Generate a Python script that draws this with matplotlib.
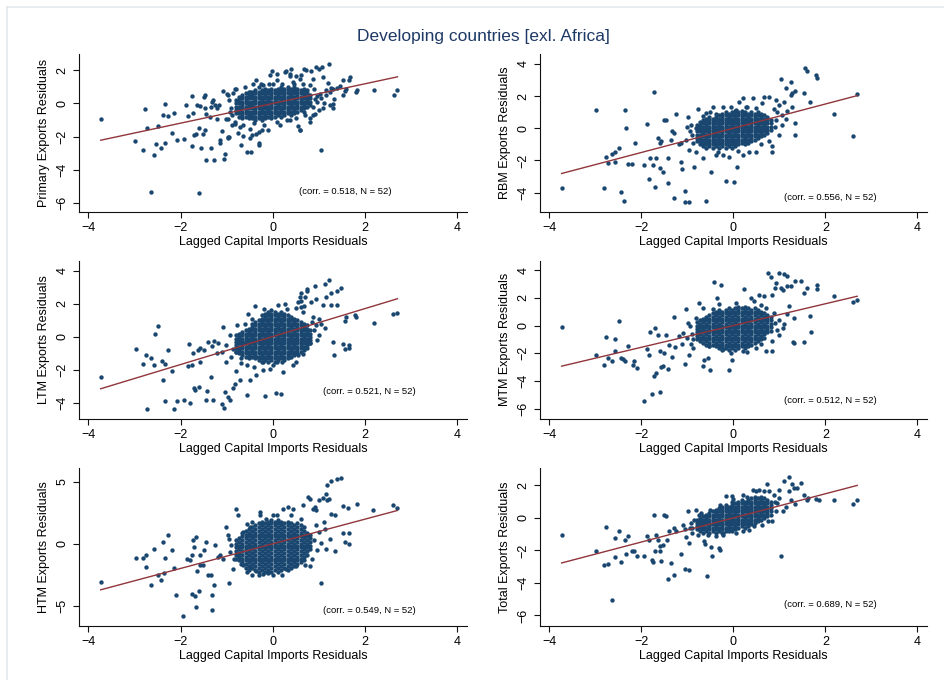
import matplotlib.pyplot as plt
from matplotlib.lines import Line2D

plt.rcParams['font.family'] = ['Liberation Sans', 'DejaVu Sans']

navy = '#1a476f'
maroon = '#90353b'

title = 'Developing countries [exl. Africa]'
x_label = 'Lagged Capital Imports Residuals'
y_labels = ['Primary Exports Residuals', 'RBM Exports Residuals',
            'LTM Exports Residuals', 'MTM Exports Residuals',
            'HTM Exports Residuals', 'Total Exports Residuals']
corr_vals = [0.518, 0.556, 0.521, 0.512, 0.549, 0.689]
n_obs = 52
fit_slope = [0.594, 0.753, 0.849, 0.787, 0.998, 0.743]
fit_const = [0.0, 0.0, 0.02, 0.0, 0.0, 0.0]
y_ticks = [[-6, -4, -2, 0, 2], [-4, -2, 0, 2, 4], [-4, -2, 0, 2, 4],
           [-6, -4, -2, 0, 2, 4], [-5, 0, 5], [-6, -4, -2, 0, 2]]
x_ticks = [-4, -2, 0, 2, 4]

# x positions of the dense cloud around the origin (same for every panel)
core_cols = [-0.80, -0.73, -0.66, -0.59, -0.52, -0.45, -0.38, -0.31, -0.24, -0.17, -0.10, -0.03,
             0.04, 0.11, 0.18, 0.25, 0.32, 0.39, 0.46, 0.53, 0.60, 0.67, 0.74, 0.81]

primary_core = [
    [-0.6, -0.4, -0.2, 0.0, 0.2],
    [-0.8, -0.6, -0.4, -0.2, 0.0, 0.2, 0.4],
    [-0.9, -0.7, -0.5, -0.3, -0.1, 0.1, 0.3, 0.5],
    [-0.8, -0.6, -0.4, -0.2, 0.0, 0.2, 0.4, 0.6],
    [-0.9, -0.7, -0.5, -0.3, -0.1, 0.1, 0.3, 0.5, 0.7],
    [-0.9, -0.7, -0.5, -0.3, -0.1, 0.1, 0.3, 0.5, 0.7],
    [-1.0, -0.8, -0.6, -0.4, -0.2, 0.0, 0.2, 0.4, 0.6, 0.8],
    [-0.9, -0.7, -0.5, -0.3, -0.1, 0.1, 0.3, 0.5, 0.7],
    [-1.0, -0.8, -0.6, -0.4, -0.2, 0.0, 0.2, 0.4, 0.6, 0.8],
    [-0.9, -0.7, -0.5, -0.3, -0.1, 0.1, 0.3, 0.5, 0.7, 0.9],
    [-0.8, -0.6, -0.4, -0.2, 0.0, 0.2, 0.4, 0.6, 0.8],
    [-0.9, -0.7, -0.5, -0.3, -0.1, 0.1, 0.3, 0.5, 0.7, 0.9],
    [-0.8, -0.6, -0.4, -0.2, 0.0, 0.2, 0.4, 0.6, 0.8],
    [-0.7, -0.5, -0.3, -0.1, 0.1, 0.3, 0.5, 0.7, 0.9],
    [-0.8, -0.6, -0.4, -0.2, 0.0, 0.2, 0.4, 0.6, 0.8, 1.0],
    [-0.7, -0.5, -0.3, -0.1, 0.1, 0.3, 0.5, 0.7, 0.9],
    [-0.6, -0.4, -0.2, 0.0, 0.2, 0.4, 0.6, 0.8, 1.0],
    [-0.7, -0.5, -0.3, -0.1, 0.1, 0.3, 0.5, 0.7, 0.9],
    [-0.6, -0.4, -0.2, 0.0, 0.2, 0.4, 0.6, 0.8, 1.0],
    [-0.5, -0.3, -0.1, 0.1, 0.3, 0.5, 0.7, 0.9],
    [-0.4, -0.2, 0.0, 0.2, 0.4, 0.6, 0.8],
    [-0.5, -0.3, -0.1, 0.1, 0.3, 0.5, 0.7, 0.9],
    [-0.2, 0.0, 0.2, 0.4, 0.6, 0.8],
    [-0.1, 0.1, 0.3, 0.5],
]
primary_pts = [
    (-3.73, -0.91), (-2.76, -0.35), (-2.72, -1.45), (-2.98, -2.28), (-2.82, -2.78), (-2.57, -3.08),
    (-2.54, -2.46), (-2.48, -1.37), (-2.34, -0.05), (-2.38, -0.67), (-2.28, -0.75), (-2.43, -2.68),
    (-2.34, -2.36), (-2.18, -1.78), (-2.14, -0.55), (-2.08, -2.18), (-1.93, -2.12), (-1.89, -0.11),
    (-1.83, -0.77), (-1.76, 0.45), (-1.75, -2.56), (-1.73, -0.57), (-1.70, -1.92), (-1.67, -1.86),
    (-1.64, -0.11), (-1.60, -1.45), (-1.59, -5.39), (-1.57, -0.15), (-1.55, -2.68), (-1.51, -1.84),
    (-1.50, 0.41), (-1.46, -0.27), (-1.44, -3.42), (-1.36, -0.81), (-1.33, -2.68), (-1.32, 0.09),
    (-1.28, -3.38), (-1.26, -0.11), (-1.22, -0.27), (-1.22, -0.91), (-1.17, -0.11), (-1.15, -2.36),
    (-1.11, -1.67), (-1.08, 0.74), (-1.05, -3.36), (-1.04, -3.02), (-1.01, -0.91), (-0.97, -2.06),
    (-0.95, -2.02), (-2.63, -5.33), (-0.97, 0.53), (-0.92, -0.51), (-0.88, -1.31), (-0.83, -1.11),
    (-0.79, 0.90), (-0.75, -1.76), (-0.68, -2.52), (-0.65, -1.31), (-0.57, -2.92), (-0.48, -2.92),
    (-0.46, -1.92), (-0.36, -1.82), (-0.30, -2.52), (-0.23, -1.61), (-0.10, -1.61), (1.04, -2.78),
    (0.81, -0.87), (0.88, -0.67), (0.58, -1.57), (0.55, -1.37), (1.09, -0.25), (1.52, 1.40),
    (1.66, 1.40), (1.68, 1.60), (1.52, 0.53), (1.56, 0.74), (1.82, 0.80), (2.19, 0.80),
    (2.62, 0.53), (2.70, 0.80), (1.39, 0.94), (1.27, 0.94), (1.20, 1.26), (1.22, 2.40),
    (0.94, 2.20), (0.99, 2.06), (1.07, 2.20), (0.68, 2.06), (0.71, 2.00), (0.40, 2.10),
    (0.37, 1.80), (0.29, 1.94), (0.26, 1.90), (0.08, 1.80), (0.09, 1.40), (-0.01, 1.94),
    (-0.07, 1.70), (-0.36, 1.40), (-0.43, 1.20), (0.83, 1.94), (0.87, 1.50), (1.09, 1.60),
    (0.62, 1.70), (0.51, 1.66), (1.32, 0.29), (1.30, -0.25), (1.31, -0.01), (1.23, -0.07),
    (1.23, 0.69), (0.91, -0.61), (-0.21, 1.10), (-0.26, 1.16), (-0.08, 1.20), (-0.50, 0.69),
    (-0.83, 0.89), (-0.86, 0.60), (-1.00, 0.59), (-1.29, 0.23), (-1.47, 0.53), (-1.33, -0.21),
    (-1.44, -0.61), (-0.98, -0.91), (-0.83, -1.21), (-0.72, -1.41), (-0.50, -1.51), (-0.29, -1.71),
    (0.15, -1.31), (0.37, -1.01), (0.58, -1.61), (0.80, -1.11), (0.87, -0.21), (0.91, 0.29),
    (1.02, 0.59), (1.16, 0.79), (1.31, 0.89), (1.45, 1.03), (1.59, 0.89), (1.81, 0.69),
    (0.58, 1.50), (0.44, 1.30), (0.37, 1.64), (-0.50, -2.11), (-0.65, -1.97), (-0.29, -2.41),
    (-1.15, -2.21), (-0.98, -2.01), (-1.47, -1.61), (0.95, 0.10), (1.00, -0.40), (0.95, 0.45),
    (-0.90, -0.30), (-0.95, 0.20), (-0.88, -0.70), (-0.40, -1.20), (-0.20, -1.30), (0.10, -1.10),
    (0.30, -1.00), (0.50, -0.90), (0.70, -0.70), (-0.60, 1.00), (-0.30, 1.00), (0.00, 1.15),
    (0.20, 1.20), (0.45, 1.15), (0.65, 1.20), (0.80, 1.10), (0.90, 0.90), (1.05, 0.30),
    (1.15, 0.50), (1.10, 0.05),
]

rbm_core = [
    [-0.8, -0.6, -0.4, -0.2, 0.0, 0.2],
    [-1.0, -0.8, -0.6, -0.4, -0.2, 0.0, 0.2, 0.4],
    [-1.1, -0.9, -0.7, -0.5, -0.3, -0.1, 0.1, 0.3, 0.5],
    [-1.0, -0.8, -0.6, -0.4, -0.2, 0.0, 0.2, 0.4, 0.6],
    [-1.1, -0.9, -0.7, -0.5, -0.3, -0.1, 0.1, 0.3, 0.5, 0.7],
    [-1.2, -1.0, -0.8, -0.6, -0.4, -0.2, 0.0, 0.2, 0.4, 0.6],
    [-1.1, -0.9, -0.7, -0.5, -0.3, -0.1, 0.1, 0.3, 0.5, 0.7, 0.9],
    [-1.2, -1.0, -0.8, -0.6, -0.4, -0.2, 0.0, 0.2, 0.4, 0.6, 0.8],
    [-1.1, -0.9, -0.7, -0.5, -0.3, -0.1, 0.1, 0.3, 0.5, 0.7, 0.9],
    [-1.2, -1.0, -0.8, -0.6, -0.4, -0.2, 0.0, 0.2, 0.4, 0.6, 0.8, 1.0],
    [-1.1, -0.9, -0.7, -0.5, -0.3, -0.1, 0.1, 0.3, 0.5, 0.7, 0.9],
    [-1.2, -1.0, -0.8, -0.6, -0.4, -0.2, 0.0, 0.2, 0.4, 0.6, 0.8, 1.0],
    [-1.1, -0.9, -0.7, -0.5, -0.3, -0.1, 0.1, 0.3, 0.5, 0.7, 0.9, 1.1],
    [-1.0, -0.8, -0.6, -0.4, -0.2, 0.0, 0.2, 0.4, 0.6, 0.8, 1.0],
    [-0.9, -0.7, -0.5, -0.3, -0.1, 0.1, 0.3, 0.5, 0.7, 0.9, 1.1],
    [-1.0, -0.8, -0.6, -0.4, -0.2, 0.0, 0.2, 0.4, 0.6, 0.8, 1.0],
    [-0.9, -0.7, -0.5, -0.3, -0.1, 0.1, 0.3, 0.5, 0.7, 0.9],
    [-0.8, -0.6, -0.4, -0.2, 0.0, 0.2, 0.4, 0.6, 0.8, 1.0],
    [-0.7, -0.5, -0.3, -0.1, 0.1, 0.3, 0.5, 0.7, 0.9],
    [-0.6, -0.4, -0.2, 0.0, 0.2, 0.4, 0.6, 0.8, 1.0],
    [-0.5, -0.3, -0.1, 0.1, 0.3, 0.5, 0.7, 0.9],
    [-0.4, -0.2, 0.0, 0.2, 0.4, 0.6, 0.8],
    [-0.3, -0.1, 0.1, 0.3, 0.5, 0.7],
    [-0.1, 0.1, 0.3, 0.5],
]
rbm_pts = [
    (-3.73, -3.68), (-2.98, 1.14), (-2.82, -3.72), (-2.76, -1.76), (-2.72, -2.17), (-2.63, -1.61),
    (-2.58, -2.07), (-2.56, -1.45), (-2.48, -1.24), (-2.43, -3.93), (-2.38, -4.51), (-2.35, 1.14),
    (-2.33, 0.00), (-2.29, -2.23), (-2.20, -2.23), (-2.13, -0.93), (-1.94, -2.27), (-1.87, 0.27),
    (-1.84, -3.16), (-1.82, -1.86), (-1.73, 2.22), (-1.75, -2.27), (-1.71, -3.62), (-1.68, -1.82),
    (-1.64, -0.58), (-1.60, -2.44), (-1.59, -0.93), (-1.57, -0.78), (-1.53, -2.69), (-1.50, 0.52),
    (-1.46, 0.52), (-1.43, -1.86), (-1.42, -3.37), (-1.35, -0.72), (-1.33, -0.16), (-1.29, -0.31),
    (-1.28, -4.30), (-1.24, 0.87), (-1.17, -1.00), (-1.14, -2.07), (-1.11, -2.52), (-1.06, -3.89),
    (-1.05, -4.61), (-0.96, -4.59), (-0.98, 0.67), (-0.97, -1.34), (-0.92, 0.21), (-0.85, -2.38),
    (-0.76, 1.18), (-0.74, -0.72), (-0.67, -1.86), (-0.59, -4.49), (-0.49, -2.73), (-0.44, 1.31),
    (-0.34, -1.45), (-0.23, -1.65), (-0.15, -3.27), (-0.05, 1.35), (0.02, -3.35), (0.08, -2.38),
    (0.13, 1.66), (0.20, 1.87), (0.34, -1.45), (0.42, 1.87), (0.49, 1.25), (0.67, 1.91),
    (0.78, 1.97), (0.85, -1.13), (0.92, 1.76), (1.04, 3.07), (1.10, 1.66), (1.14, 2.49),
    (1.17, 1.04), (1.25, 2.90), (1.28, 2.18), (1.34, 2.32), (1.28, 1.35), (1.34, 0.31),
    (1.35, -0.41), (1.53, 2.18), (1.55, 3.77), (1.61, 3.57), (1.66, 1.60), (1.79, 3.28),
    (1.82, 3.11), (2.18, 0.87), (2.60, -0.47), (2.69, 2.12), (1.25, 2.07), (1.00, 1.45),
    (0.92, 0.52), (1.06, 0.21), (0.99, -0.41), (0.78, -0.82), (0.85, -1.45), (0.70, -0.20),
    (-0.81, 0.00), (-0.90, -0.41), (-1.03, -0.72), (-1.14, -0.93), (-0.88, -0.93), (-0.81, -1.45),
    (-0.59, -1.24), (-0.38, -1.65), (-0.09, -1.76), (0.20, -1.65), (0.49, -1.45), (-0.23, 1.35),
    (-0.59, 0.94), (-0.67, 0.73), (0.27, 1.35), (0.05, 1.14), (0.63, 1.56), (0.95, 1.00),
    (1.05, 0.80), (0.90, 0.10), (-1.00, 0.10), (-0.95, -0.20), (0.60, -1.00), (0.10, -1.40),
    (-0.50, 1.00), (0.30, 1.30), (0.88, 1.20), (1.15, 0.60),
]

ltm_core = [
    [-0.9, -0.7, -0.5, -0.3, -0.1, 0.1],
    [-1.0, -0.8, -0.6, -0.4, -0.2, 0.0, 0.2],
    [-1.1, -0.9, -0.7, -0.5, -0.3, -0.1, 0.1, 0.3],
    [-1.2, -1.0, -0.8, -0.6, -0.4, -0.2, 0.0, 0.2, 0.4],
    [-1.3, -1.1, -0.9, -0.7, -0.5, -0.3, -0.1, 0.1, 0.3, 0.5],
    [-1.2, -1.0, -0.8, -0.6, -0.4, -0.2, 0.0, 0.2, 0.4, 0.6, 0.8],
    [-1.3, -1.1, -0.9, -0.7, -0.5, -0.3, -0.1, 0.1, 0.3, 0.5, 0.7, 0.9],
    [-1.4, -1.2, -1.0, -0.8, -0.6, -0.4, -0.2, 0.0, 0.2, 0.4, 0.6, 0.8, 1.0],
    [-1.5, -1.3, -1.1, -0.9, -0.7, -0.5, -0.3, -0.1, 0.1, 0.3, 0.5, 0.7, 0.9, 1.1, 1.3],
    [-1.4, -1.2, -1.0, -0.8, -0.6, -0.4, -0.2, 0.0, 0.2, 0.4, 0.6, 0.8, 1.0, 1.2, 1.4],
    [-1.5, -1.3, -1.1, -0.9, -0.7, -0.5, -0.3, -0.1, 0.1, 0.3, 0.5, 0.7, 0.9, 1.1, 1.3, 1.5],
    [-1.4, -1.2, -1.0, -0.8, -0.6, -0.4, -0.2, 0.0, 0.2, 0.4, 0.6, 0.8, 1.0, 1.2, 1.4, 1.6],
    [-1.5, -1.3, -1.1, -0.9, -0.7, -0.5, -0.3, -0.1, 0.1, 0.3, 0.5, 0.7, 0.9, 1.1, 1.3, 1.5],
    [-1.4, -1.2, -1.0, -0.8, -0.6, -0.4, -0.2, 0.0, 0.2, 0.4, 0.6, 0.8, 1.0, 1.2, 1.4],
    [-1.3, -1.1, -0.9, -0.7, -0.5, -0.3, -0.1, 0.1, 0.3, 0.5, 0.7, 0.9, 1.1, 1.3, 1.5],
    [-1.4, -1.2, -1.0, -0.8, -0.6, -0.4, -0.2, 0.0, 0.2, 0.4, 0.6, 0.8, 1.0, 1.2, 1.4],
    [-1.3, -1.1, -0.9, -0.7, -0.5, -0.3, -0.1, 0.1, 0.3, 0.5, 0.7, 0.9, 1.1, 1.3],
    [-1.2, -1.0, -0.8, -0.6, -0.4, -0.2, 0.0, 0.2, 0.4, 0.6, 0.8, 1.0, 1.2],
    [-1.1, -0.9, -0.7, -0.5, -0.3, -0.1, 0.1, 0.3, 0.5, 0.7, 0.9, 1.1],
    [-1.0, -0.8, -0.6, -0.4, -0.2, 0.0, 0.2, 0.4, 0.6, 0.8, 1.0],
    [-0.9, -0.7, -0.5, -0.3, -0.1, 0.1, 0.3, 0.5, 0.7, 0.9],
    [-0.8, -0.6, -0.4, -0.2, 0.0, 0.2, 0.4, 0.6, 0.8],
    [-0.5, -0.3, -0.1, 0.1, 0.3, 0.5, 0.7],
    [-0.4, -0.2, 0.0, 0.2, 0.4],
]
ltm_pts = [
    (-3.73, -2.46), (-2.97, -0.71), (-2.82, -1.66), (-2.75, -1.11), (-2.72, -4.38), (-2.63, -1.31),
    (-2.57, -1.72), (-2.56, 0.20), (-2.48, 0.67), (-2.41, -1.47), (-2.39, -2.59), (-2.34, -1.62),
    (-2.33, -3.88), (-2.28, -0.77), (-2.18, -2.06), (-2.14, -4.38), (-2.07, -3.88), (-1.93, -3.80),
    (-1.84, -1.78), (-1.81, -0.44), (-1.79, -3.98), (-1.75, -1.72), (-1.73, -0.95), (-1.71, -3.09),
    (-1.68, -3.23), (-1.62, -0.77), (-1.60, -3.03), (-1.58, -1.52), (-1.57, -0.67), (-1.50, -0.77),
    (-1.44, -3.80), (-1.42, -3.27), (-1.40, -0.34), (-1.33, -2.42), (-1.31, -0.55), (-1.29, -3.80),
    (-1.27, -0.24), (-1.22, -0.95), (-1.19, -0.40), (-1.11, -4.08), (-1.08, 0.61), (-1.06, -4.34),
    (-1.04, -3.33), (-1.01, -1.52), (-0.97, -3.64), (-0.93, -3.84), (-0.86, -3.13), (-0.83, -2.83),
    (-0.79, -2.06), (-0.77, 0.71), (-0.72, -2.63), (-0.68, -1.31), (-0.57, -3.54), (-0.50, -2.63),
    (-0.36, -2.32), (-0.21, -2.02), (-0.16, -3.60), (-0.07, -1.92), (0.06, -3.43), (0.18, -3.49),
    (0.22, -2.16), (0.44, -1.72), (0.51, -1.52), (0.65, -1.01), (0.80, -0.40), (0.93, 0.71),
    (1.01, 0.10), (1.12, 0.51), (1.30, -0.30), (1.32, -1.11), (1.52, -0.46), (1.56, -0.75),
    (1.65, -0.50), (1.66, -0.67), (1.56, 0.97), (1.59, 1.21), (1.77, 1.35), (1.81, 1.21),
    (2.19, 0.87), (2.60, 1.41), (2.70, 1.45), (1.21, 3.43), (1.12, 3.23), (0.92, 3.09),
    (0.73, 2.93), (0.75, 2.77), (0.94, 2.32), (1.16, 2.42), (1.27, 2.63), (1.38, 2.77),
    (1.48, 2.97), (1.27, 1.92), (1.38, 1.96), (1.09, 1.92), (0.83, 2.12), (0.58, 2.42),
    (0.62, 2.63), (0.55, 2.12), (0.51, 1.72), (0.65, 1.52), (0.87, 1.21), (1.01, 1.11),
    (0.26, 2.02), (0.11, 1.92), (-0.39, 1.88), (-0.54, 1.41), (-0.93, 0.10), (-1.01, -0.51),
    (-0.86, -0.71), (-0.65, -0.40), (-0.79, -0.91), (-0.36, -1.21), (-0.21, -1.52), (0.08, -1.52),
    (0.36, -1.21), (-0.57, -1.72), (0.62, 2.20), (0.68, 1.90), (0.70, 2.40), (0.60, 1.80),
    (0.90, 0.40), (0.95, -0.20), (1.05, 0.80), (0.85, 0.90), (-0.60, 0.80), (-0.45, 1.10),
    (-0.20, 1.70), (0.30, 1.70), (-0.90, -1.20), (-0.70, -1.60), (-0.40, -1.80), (0.00, -1.70),
    (0.20, -1.50), (0.55, -1.10), (0.75, -0.70), (-1.10, -0.90),
]

mtm_core = [
    [-1.0, -0.75, -0.5, -0.25, 0.0, 0.25],
    [-1.13, -0.88, -0.63, -0.38, -0.13, 0.12, 0.37],
    [-1.25, -1.0, -0.75, -0.5, -0.25, 0.0, 0.25, 0.5],
    [-1.38, -1.13, -0.88, -0.63, -0.38, -0.13, 0.12, 0.37, 0.62],
    [-1.5, -1.25, -1.0, -0.75, -0.5, -0.25, 0.0, 0.25, 0.5, 0.75],
    [-1.38, -1.13, -0.88, -0.63, -0.38, -0.13, 0.12, 0.37, 0.62, 0.87],
    [-1.5, -1.25, -1.0, -0.75, -0.5, -0.25, 0.0, 0.25, 0.5, 0.75, 1.0],
    [-1.63, -1.38, -1.13, -0.88, -0.63, -0.38, -0.13, 0.12, 0.37, 0.62, 0.87, 1.12],
    [-1.75, -1.5, -1.25, -1.0, -0.75, -0.5, -0.25, 0.0, 0.25, 0.5, 0.75, 1.0],
    [-1.63, -1.38, -1.13, -0.88, -0.63, -0.38, -0.13, 0.12, 0.37, 0.62, 0.87, 1.12],
    [-1.75, -1.5, -1.25, -1.0, -0.75, -0.5, -0.25, 0.0, 0.25, 0.5, 0.75, 1.0, 1.25],
    [-1.63, -1.38, -1.13, -0.88, -0.63, -0.38, -0.13, 0.12, 0.37, 0.62, 0.87, 1.12],
    [-1.75, -1.5, -1.25, -1.0, -0.75, -0.5, -0.25, 0.0, 0.25, 0.5, 0.75, 1.0, 1.25],
    [-1.63, -1.38, -1.13, -0.88, -0.63, -0.38, -0.13, 0.12, 0.37, 0.62, 0.87, 1.12, 1.37],
    [-1.5, -1.25, -1.0, -0.75, -0.5, -0.25, 0.0, 0.25, 0.5, 0.75, 1.0, 1.25],
    [-1.63, -1.38, -1.13, -0.88, -0.63, -0.38, -0.13, 0.12, 0.37, 0.62, 0.87, 1.12, 1.37],
    [-1.5, -1.25, -1.0, -0.75, -0.5, -0.25, 0.0, 0.25, 0.5, 0.75, 1.0, 1.25],
    [-1.38, -1.13, -0.88, -0.63, -0.38, -0.13, 0.12, 0.37, 0.62, 0.87, 1.12],
    [-1.25, -1.0, -0.75, -0.5, -0.25, 0.0, 0.25, 0.5, 0.75, 1.0, 1.25],
    [-1.13, -0.88, -0.63, -0.38, -0.13, 0.12, 0.37, 0.62, 0.87, 1.12],
    [-1.0, -0.75, -0.5, -0.25, 0.0, 0.25, 0.5, 0.75, 1.0],
    [-0.88, -0.63, -0.38, -0.13, 0.12, 0.37, 0.62, 0.87],
    [-0.5, -0.25, 0.0, 0.25, 0.5, 0.75],
    [-0.38, -0.13, 0.12, 0.37, 0.62],
]
mtm_pts = [
    (-3.73, -0.10), (-2.98, -2.14), (-2.82, -2.82), (-2.76, -0.82), (-2.72, -2.34), (-2.63, -2.58),
    (-2.58, -0.94), (-2.56, -1.86), (-2.48, 0.36), (-2.43, -2.34), (-2.40, -2.39), (-2.35, -2.53),
    (-2.29, -1.49), (-2.18, -2.87), (-2.15, -2.58), (-2.09, -3.06), (-1.94, -5.42), (-1.87, -1.73),
    (-1.84, -2.10), (-1.82, -0.46), (-1.77, -4.94), (-1.73, -3.66), (-1.71, -0.17), (-1.68, -3.42),
    (-1.64, -0.65), (-1.60, -1.86), (-1.59, -4.80), (-1.57, -2.99), (-1.53, -2.94), (-1.50, -1.98),
    (-1.47, -0.65), (-1.42, -3.11), (-1.39, -1.42), (-1.33, -2.27), (-1.29, 0.63), (-1.26, -1.57),
    (-1.17, -0.77), (-1.11, -1.33), (-1.09, -0.53), (-1.06, -2.77), (-1.03, 1.16), (-0.99, 0.19),
    (-0.97, -2.10), (-0.92, -1.37), (-0.87, -1.61), (-0.81, 0.55), (-0.77, -0.22), (-0.74, 1.64),
    (-0.67, -2.94), (-0.63, -2.46), (-0.56, -2.34), (-0.51, -3.18), (-0.41, 3.13), (-0.36, 2.00),
    (-0.27, 2.96), (-0.10, -3.18), (-0.03, -2.46), (0.24, 2.67), (0.45, 1.76), (0.56, 2.24),
    (0.67, 2.12), (0.76, 3.81), (0.81, 3.49), (0.85, 2.24), (0.92, 3.08), (0.91, 2.72),
    (0.99, 3.81), (1.03, 2.72), (1.10, 3.69), (1.16, 3.57), (1.07, 2.60), (1.17, 2.84),
    (1.25, 2.84), (1.35, 3.20), (1.46, 3.20), (1.53, 2.36), (1.61, 2.72), (1.81, 2.67),
    (1.82, 2.92), (2.18, 2.12), (2.60, 1.71), (2.69, 1.88), (0.70, -1.86), (0.83, -1.86),
    (1.07, -0.17), (1.30, -1.18), (1.32, -1.24), (1.53, -1.18), (1.66, 0.67), (1.68, -0.46),
    (1.21, 1.40), (1.32, 0.55), (1.16, 0.80), (0.99, 0.43), (0.99, -0.65), (0.85, -1.13),
    (0.49, -1.61), (0.20, -1.86), (-0.23, -1.73), (-0.52, -1.49), (-0.67, 1.28), (-0.31, 1.52),
    (0.05, 1.64), (0.38, 2.00), (0.70, 1.28), (0.89, 0.92), (0.90, 0.20), (0.95, -0.30),
    (-0.90, -0.60), (-0.95, 0.00), (-0.88, -1.00), (-0.45, 1.20), (0.60, 1.50), (0.30, -1.90),
    (-0.05, -2.00), (0.60, -1.30), (1.10, 0.10), (-1.00, -0.90),
]

htm_core = [
    [-1.2, -0.9, -0.6, -0.3, 0.0, 0.3],
    [-1.35, -1.05, -0.75, -0.45, -0.15, 0.15, 0.45],
    [-1.5, -1.2, -0.9, -0.6, -0.3, 0.0, 0.3, 0.6, 0.9],
    [-1.95, -1.65, -1.35, -1.05, -0.75, -0.45, -0.15, 0.15, 0.45, 0.75, 1.05],
    [-2.1, -1.8, -1.5, -1.2, -0.9, -0.6, -0.3, 0.0, 0.3, 0.6, 0.9, 1.2],
    [-1.95, -1.65, -1.35, -1.05, -0.75, -0.45, -0.15, 0.15, 0.45, 0.75, 1.05, 1.35],
    [-2.1, -1.8, -1.5, -1.2, -0.9, -0.6, -0.3, 0.0, 0.3, 0.6, 0.9, 1.2, 1.5],
    [-2.25, -1.95, -1.65, -1.35, -1.05, -0.75, -0.45, -0.15, 0.15, 0.45, 0.75, 1.05, 1.35, 1.65],
    [-2.1, -1.8, -1.5, -1.2, -0.9, -0.6, -0.3, 0.0, 0.3, 0.6, 0.9, 1.2, 1.5, 1.8],
    [-2.25, -1.95, -1.65, -1.35, -1.05, -0.75, -0.45, -0.15, 0.15, 0.45, 0.75, 1.05, 1.35, 1.65],
    [-2.4, -2.1, -1.8, -1.5, -1.2, -0.9, -0.6, -0.3, 0.0, 0.3, 0.6, 0.9, 1.2, 1.5, 1.8],
    [-2.25, -1.95, -1.65, -1.35, -1.05, -0.75, -0.45, -0.15, 0.15, 0.45, 0.75, 1.05, 1.35, 1.65, 1.95],
    [-2.1, -1.8, -1.5, -1.2, -0.9, -0.6, -0.3, 0.0, 0.3, 0.6, 0.9, 1.2, 1.5, 1.8],
    [-2.25, -1.95, -1.65, -1.35, -1.05, -0.75, -0.45, -0.15, 0.15, 0.45, 0.75, 1.05, 1.35, 1.65, 1.95],
    [-2.1, -1.8, -1.5, -1.2, -0.9, -0.6, -0.3, 0.0, 0.3, 0.6, 0.9, 1.2, 1.5, 1.8],
    [-1.95, -1.65, -1.35, -1.05, -0.75, -0.45, -0.15, 0.15, 0.45, 0.75, 1.05, 1.35, 1.65],
    [-2.1, -1.8, -1.5, -1.2, -0.9, -0.6, -0.3, 0.0, 0.3, 0.6, 0.9, 1.2, 1.5, 1.8],
    [-1.95, -1.65, -1.35, -1.05, -0.75, -0.45, -0.15, 0.15, 0.45, 0.75, 1.05, 1.35, 1.65],
    [-1.8, -1.5, -1.2, -0.9, -0.6, -0.3, 0.0, 0.3, 0.6, 0.9, 1.2, 1.5],
    [-1.65, -1.35, -1.05, -0.75, -0.45, -0.15, 0.15, 0.45, 0.75, 1.05, 1.35, 1.65],
    [-1.5, -1.2, -0.9, -0.6, -0.3, 0.0, 0.3, 0.6, 0.9, 1.2, 1.5],
    [-1.35, -1.05, -0.75, -0.45, -0.15, 0.15, 0.45, 0.75, 1.05, 1.35],
    [-0.9, -0.6, -0.3, 0.0, 0.3, 0.6, 0.9],
    [-0.45, -0.15, 0.15, 0.45, 0.75],
]
htm_pts = [
    (-3.73, -3.09), (-2.97, -1.15), (-2.82, -1.15), (-2.75, -0.93), (-2.74, -1.87), (-2.63, -3.36),
    (-2.58, -0.39), (-2.48, -2.49), (-2.43, -2.90), (-2.36, -2.33), (-2.38, 0.15), (-2.33, -1.12),
    (-2.28, 0.69), (-2.18, -0.53), (-2.14, -1.93), (-2.09, -4.11), (-1.94, -5.84), (-1.87, -1.25),
    (-1.80, -1.33), (-1.75, -0.93), (-1.75, -4.03), (-1.73, 0.34), (-1.71, -0.26), (-1.68, -4.25),
    (-1.66, 0.55), (-1.64, -2.22), (-1.66, -5.11), (-1.60, -3.84), (-1.58, -1.74), (-1.57, -0.93),
    (-1.51, -1.68), (-1.50, -0.47), (-1.44, 0.15), (-1.40, -2.49), (-1.33, -2.55), (-1.32, -4.11),
    (-1.31, -5.38), (-1.27, -3.36), (-1.26, -0.12), (-1.19, -1.06), (-1.15, -0.93), (-1.08, -1.20),
    (-1.01, 1.36), (-0.97, 0.69), (-0.95, -3.14), (-0.90, -0.12), (-0.86, -2.01), (-0.79, 2.84),
    (-0.75, 2.36), (-0.70, -1.60), (-0.57, -2.28), (-0.46, -2.55), (-0.36, -2.22), (-0.28, 2.30),
    (-0.21, -2.41), (-0.14, 2.04), (0.00, 2.30), (0.08, 2.30), (0.22, 2.84), (0.33, 2.98),
    (0.44, 2.79), (0.65, 3.17), (0.76, 3.79), (0.80, 3.65), (0.87, 2.84), (0.91, 2.98),
    (0.94, 2.71), (1.01, 3.52), (1.09, 3.71), (1.16, 4.06), (1.18, 3.52), (1.22, 3.65),
    (1.17, 4.73), (1.27, 5.05), (1.38, 5.22), (1.48, 5.32), (1.27, 2.44), (1.34, 2.30),
    (1.52, 3.03), (1.63, 2.92), (1.82, 3.25), (2.17, 2.71), (2.60, 3.11), (2.69, 2.90),
    (1.52, 0.90), (1.56, 0.15), (1.66, -0.04), (1.66, 0.90), (1.34, -0.61), (1.16, -0.39),
    (1.23, 0.42), (1.05, 0.09), (1.04, -3.17), (0.80, -1.82), (0.51, -1.82), (0.29, -2.01),
    (0.00, -2.55), (1.12, 1.23), (0.94, 1.50), (1.01, 0.96), (-0.65, 0.96), (-0.57, 1.63),
    (-0.50, 1.36), (-0.28, 2.57), (-0.85, -1.20), (-0.93, -0.66), (-0.75, -0.93), (-0.65, -1.74),
    (-0.50, -1.87), (0.90, 0.30), (0.95, -0.50), (0.85, -1.20), (0.60, 2.00), (0.40, 2.30),
    (-0.45, 1.80), (0.70, -1.70), (0.20, -2.50), (-0.30, -2.50), (1.10, 1.80), (-0.95, 0.40),
]

total_core = [
    [-0.7, -0.5, -0.3, -0.1],
    [-0.8, -0.6, -0.4, -0.2, 0.0],
    [-0.9, -0.7, -0.5, -0.3, -0.1, 0.1],
    [-0.8, -0.6, -0.4, -0.2, 0.0, 0.2],
    [-0.9, -0.7, -0.5, -0.3, -0.1, 0.1, 0.3],
    [-0.8, -0.6, -0.4, -0.2, 0.0, 0.2, 0.4],
    [-0.9, -0.7, -0.5, -0.3, -0.1, 0.1, 0.3, 0.5],
    [-0.8, -0.6, -0.4, -0.2, 0.0, 0.2, 0.4, 0.6],
    [-0.9, -0.7, -0.5, -0.3, -0.1, 0.1, 0.3, 0.5, 0.7],
    [-0.8, -0.6, -0.4, -0.2, 0.0, 0.2, 0.4, 0.6, 0.8],
    [-0.7, -0.5, -0.3, -0.1, 0.1, 0.3, 0.5, 0.7],
    [-0.8, -0.6, -0.4, -0.2, 0.0, 0.2, 0.4, 0.6, 0.8, 1.0],
    [-0.7, -0.5, -0.3, -0.1, 0.1, 0.3, 0.5, 0.7, 0.9],
    [-0.6, -0.4, -0.2, 0.0, 0.2, 0.4, 0.6, 0.8, 1.0],
    [-0.5, -0.3, -0.1, 0.1, 0.3, 0.5, 0.7, 0.9, 1.1],
    [-0.6, -0.4, -0.2, 0.0, 0.2, 0.4, 0.6, 0.8, 1.0],
    [-0.5, -0.3, -0.1, 0.1, 0.3, 0.5, 0.7, 0.9, 1.1],
    [-0.4, -0.2, 0.0, 0.2, 0.4, 0.6, 0.8, 1.0, 1.2],
    [-0.3, -0.1, 0.1, 0.3, 0.5, 0.7, 0.9, 1.1, 1.3],
    [-0.2, 0.0, 0.2, 0.4, 0.6, 0.8, 1.0, 1.2],
    [-0.1, 0.1, 0.3, 0.5, 0.7, 0.9, 1.1, 1.3],
    [0.0, 0.2, 0.4, 0.6, 0.8, 1.0, 1.2],
    [0.1, 0.3, 0.5, 0.7, 0.9, 1.1],
    [0.2, 0.4, 0.6, 0.8, 1.0],
]
total_pts = [
    (-3.73, -1.04), (-2.98, -2.06), (-2.82, -2.88), (-2.76, -0.56), (-2.72, -2.84), (-2.63, -5.08),
    (-2.58, -2.43), (-2.56, -1.24), (-2.48, -0.83), (-2.43, -2.74), (-2.36, -1.34), (-2.34, -2.23),
    (-2.29, -1.14), (-2.20, -2.02), (-2.15, -2.02), (-2.09, -2.37), (-1.94, -2.37), (-1.87, -1.10),
    (-1.84, -1.34), (-1.77, -2.57), (-1.75, -2.74), (-1.73, 0.15), (-1.70, -2.06), (-1.68, -1.04),
    (-1.64, -1.38), (-1.60, -1.75), (-1.59, -2.02), (-1.57, -2.68), (-1.53, -1.65), (-1.51, 0.15),
    (-1.47, 0.09), (-1.44, -1.34), (-1.42, -3.74), (-1.39, -0.83), (-1.35, -2.78), (-1.29, -3.54),
    (-1.28, -0.63), (-1.24, -0.83), (-1.14, -2.23), (-1.10, -0.42), (-1.06, -3.13), (-1.03, -1.20),
    (-0.99, 0.40), (-0.96, -3.19), (-0.96, -1.55), (-0.92, -0.32), (-0.89, -0.63), (-0.81, 0.50),
    (-0.77, -1.04), (-0.74, 0.19), (-0.63, -1.45), (-0.61, -1.61), (-0.58, -3.60), (-0.56, -1.04),
    (-0.52, -0.42), (-0.49, -1.82), (-0.47, -2.37), (-0.38, -1.14), (-0.31, -1.86), (-0.29, -1.96),
    (-0.23, -1.04), (-0.15, 1.32), (-0.03, 1.32), (0.20, 1.43), (0.42, 1.73), (0.49, 1.67),
    (0.56, 1.73), (0.67, 1.63), (0.74, 2.08), (0.78, 1.67), (0.88, 1.43), (0.99, 1.73),
    (1.10, 2.29), (1.21, 2.49), (1.28, 2.08), (1.21, 1.63), (1.32, 1.84), (1.39, 1.84),
    (1.46, 2.14), (1.53, 1.43), (1.61, 1.12), (1.63, 1.22), (1.79, 1.18), (1.86, 1.12),
    (2.18, 1.12), (2.60, 0.85), (2.69, 1.12), (1.03, -2.37), (1.07, 0.40), (1.25, 1.12),
    (1.35, 0.85), (0.85, -0.22), (0.92, 0.40), (0.63, -0.42), (0.34, -0.73), (0.20, -0.83),
    (0.05, -0.93), (-0.23, -0.93), (-0.09, -0.83), (0.95, 0.90), (1.00, 1.20), (0.90, 1.00),
    (1.15, 0.70), (-0.90, -0.90), (-0.85, -0.10), (-0.95, -0.60), (-0.50, 0.50), (-0.30, 0.80),
    (0.00, 1.15), (0.30, 1.30), (-0.70, 0.30), (0.45, -0.50), (0.75, -0.20), (-1.05, -0.70),
]

cores = [primary_core, rbm_core, ltm_core, mtm_core, htm_core, total_core]
points = [primary_pts, rbm_pts, ltm_pts, mtm_pts, htm_pts, total_pts]

# layout
W, H = 945, 680
col_left = [79, 540]
col_width = [387.7, 386.7]
row_bottom = [212, 418.5, 626]
ax_height = 158
y_limits = [(-6.54, 2.98), (-5.2, 4.61), (-4.95, 4.63), (-6.72, 4.70), (-6.65, 6.13), (-6.65, 3.07)]
corr_pos = [(0.807, 0.127), (0.871, 0.089), (0.868, 0.168), (0.871, 0.116), (0.868, 0.095), (0.871, 0.135)]

fig = plt.figure(figsize=(W / 100, H / 100), dpi=100)
fig.patch.set_facecolor('white')

# light frame of the graph region (only top/left edge visible)
fig.add_artist(Line2D([7 / W, 7 / W], [0, 1 - 7 / H], transform=fig.transFigure, color='#e2eaef', lw=1.2))
fig.add_artist(Line2D([7 / W, 1], [1 - 7 / H, 1 - 7 / H], transform=fig.transFigure, color='#e2eaef', lw=1.2))

fig.text(483 / W, 1 - 36.5 / H, title, ha='center', va='center', fontsize=12.5, color='#1e3966')

for i in range(6):
    r, c = i // 2, i % 2
    ax = fig.add_axes([col_left[c] / W, 1 - row_bottom[r] / H, col_width[c] / W, ax_height / H])

    xs, ys = [], []
    for cx, col in zip(core_cols, cores[i]):
        for v in col:
            xs.append(cx)
            ys.append(v)
    for px, py in points[i]:
        xs.append(px)
        ys.append(py)

    ax.scatter(xs, ys, s=10, color=navy, linewidths=0, zorder=2)
    lo, hi = min(xs), max(xs)
    ax.plot([lo, hi], [fit_const[i] + fit_slope[i] * lo, fit_const[i] + fit_slope[i] * hi],
            color=maroon, lw=1.0, zorder=3)

    ax.set_xlim(-4.2, 4.2)
    ax.set_ylim(*y_limits[i])
    ax.set_xticks(x_ticks)
    ax.set_yticks(y_ticks[i])

    for side in ['top', 'right']:
        ax.spines[side].set_visible(False)
    for side in ['left', 'bottom']:
        ax.spines[side].set_linewidth(0.8)
        ax.spines[side].set_color('#111111')
    ax.tick_params(direction='out', length=4.5, width=0.8, color='#111111',
                   labelsize=9, pad=3)
    ax.tick_params(axis='y', labelrotation=90)
    for lbl in ax.get_yticklabels():
        lbl.set_va('center')

    ax.set_xlabel(x_label, fontsize=9, labelpad=1.5)
    ax.set_ylabel(y_labels[i], fontsize=9, labelpad=5)

    ax.text(corr_pos[i][0], corr_pos[i][1], '(corr. = %.3f, N = %d)' % (corr_vals[i], n_obs),
            transform=ax.transAxes, ha='right', va='center', fontsize=6.8)

fig.savefig('out.png', dpi=100, facecolor='white')
